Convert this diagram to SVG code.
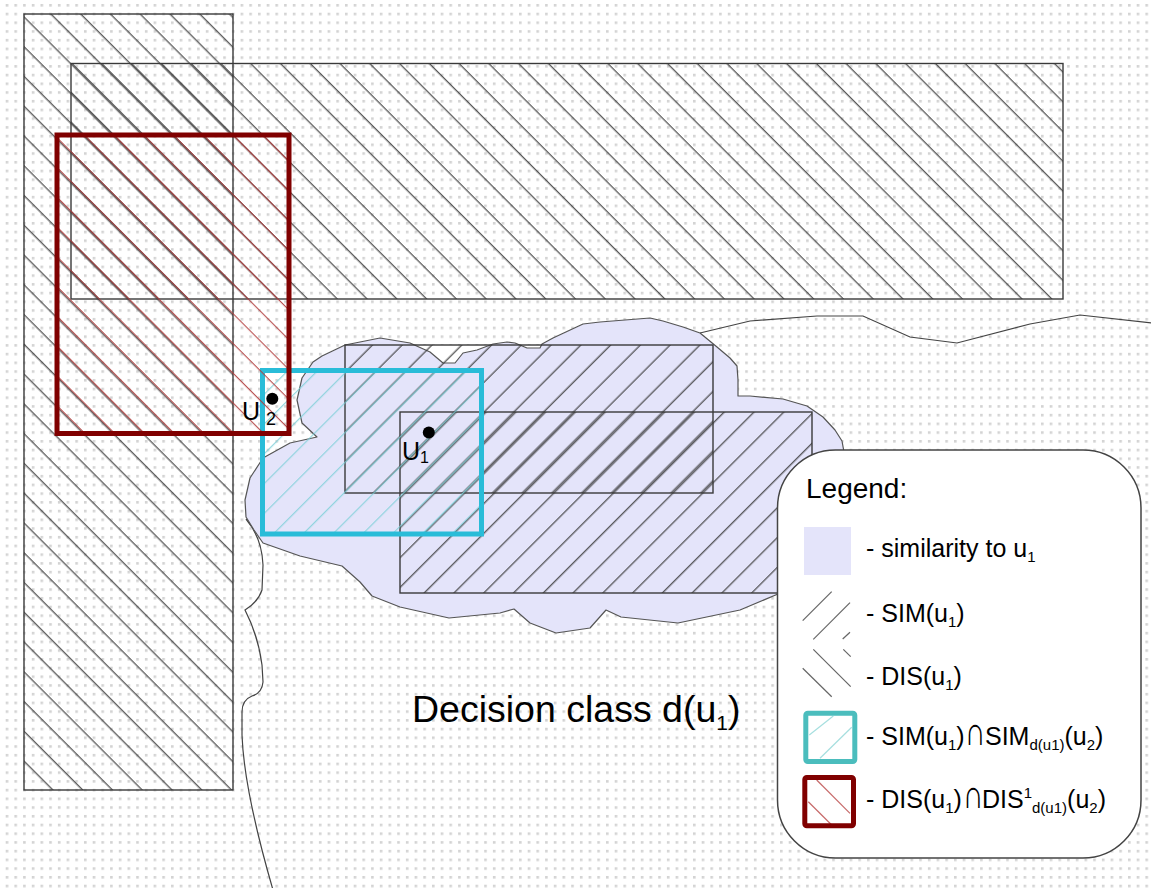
<svg xmlns="http://www.w3.org/2000/svg" width="1151" height="888" viewBox="0 0 1151 888">
  <style>
    text { font-family: "Liberation Sans", Arial, sans-serif; fill: #000; }
    .frame { stroke: #3a3a3a; stroke-width: 1.4; }
    .edge { fill: none; stroke: #444; stroke-width: 1.2; }
    .icon-line { stroke: #666; stroke-width: 1.2; }
    .sub { font-size: 15px; }
  </style>
  <defs>
    <!-- dotted paper -->
    <pattern id="dots" patternUnits="userSpaceOnUse" x="5.7" y="4" width="8.7" height="8.72">
      <rect width="2.6" height="2.6" fill="#d3d3d3"/>
    </pattern>
    <!-- "\" hatching (DIS) -->
    <pattern id="disA" patternUnits="userSpaceOnUse" width="21.05" height="20" patternTransform="rotate(-45)">
      <line x1="5" y1="-2" x2="5" y2="22" stroke="#383838" stroke-width="1.1"/>
    </pattern>
    <pattern id="disB" patternUnits="userSpaceOnUse" width="21.05" height="20" patternTransform="rotate(-45)">
      <line x1="6" y1="-2" x2="6" y2="22" stroke="#383838" stroke-width="1.1"/>
    </pattern>
    <pattern id="disRed" patternUnits="userSpaceOnUse" width="21.05" height="20" patternTransform="rotate(-45)">
      <line x1="6.1" y1="-2" x2="6.1" y2="22" stroke="#b03a3a" stroke-width="1"/>
    </pattern>
    <!-- "/" hatching (SIM) -->
    <pattern id="simA" patternUnits="userSpaceOnUse" width="21.05" height="20" patternTransform="rotate(45)">
      <line x1="2.1" y1="-2" x2="2.1" y2="22" stroke="#383838" stroke-width="1.1"/>
    </pattern>
    <pattern id="simB" patternUnits="userSpaceOnUse" width="21.05" height="20" patternTransform="rotate(45)">
      <line x1="3.6" y1="-2" x2="3.6" y2="22" stroke="#383838" stroke-width="1.1"/>
    </pattern>
    <pattern id="simCyan" patternUnits="userSpaceOnUse" width="21.05" height="20" patternTransform="rotate(45)">
      <line x1="2.6" y1="-2" x2="2.6" y2="22" stroke="#7ccfd8" stroke-width="1"/>
    </pattern>
  </defs>

  <!-- paper -->
  <rect width="1151" height="888" fill="#fff"/>
  <rect width="1151" height="888" fill="url(#dots)"/>

  <!-- dissimilarity regions -->
  <g id="dis-tall">
    <rect x="24" y="14" width="209" height="776" fill="url(#disA)" class="frame"/>
  </g>
  <g id="dis-wide">
    <rect x="71" y="63.5" width="992" height="235.5" fill="url(#disB)" class="frame"/>
  </g>

  <!-- boundary of decision class d(u1) -->
  <g id="decision-class-boundary">
    <path class="edge" d="M246,519 Q262,538 263,565 L262,590 Q258,602 245,610 Q258,635 262,665 L263,682 Q262,693 252,696 Q242,700 242,712 L242,735 Q244,790 273,890"/>
    <path class="edge" d="M700,333 L750,321 L817,316 L863,316 L910,337 L957,343 L1030,324 L1080,315 L1152,323"/>
  </g>

  <!-- similarity rectangles, paper masked underneath -->
  <g id="sim-backing">
    <rect x="345" y="345" width="368" height="148" fill="#fff"/>
    <rect x="400" y="412" width="412" height="181" fill="#fff"/>
  </g>

  <!-- similarity to u1 -->
  <g id="similarity-cloud">
    <path fill="#e4e4fa" stroke="#555" stroke-width="1.2" stroke-linejoin="round"
      d="M302,378 L313,362 L322,356 L345,345 L380,338 L410,343 L430,352 L443,363 L455,363 L463,353 L477,350 L493,344 L507,342 L515,343 L527,348 L540,348 L542,344 L553,338 L583,324 L600,322 L650,318 L663,321 L683,327 L700,333 L717,347 L730,358 L737,366 L738,380 L738,396 L750,396 L783,399 L807,406 L823,417 L835,430 L842,441 L844,452 L846,480 L835,550 L800,585 L778,594 L740,610 L678,623 L621,617 L606,610 L590,628 L556,633 L530,623 L514,609 L500,613 L449,618 L400,607 L372,596 L360,582 L342,566 L300,556 L263,543 L254,530 L246,517 L245,500 L250,478 L263,458 L290,443 L317,437 L302,423 L297,400 Z"/>
  </g>

  <g id="sim-upper">
    <rect x="345" y="345" width="368" height="148" fill="url(#simA)" class="frame"/>
  </g>
  <g id="sim-lower">
    <rect x="400" y="412" width="412" height="181" fill="url(#simB)" class="frame"/>
  </g>

  <!-- intersections for u2 -->
  <g id="sim-intersection">
    <rect x="262.5" y="370.5" width="219" height="163.5" fill="url(#simCyan)" stroke="#29bcd8" stroke-width="5"/>
  </g>
  <g id="dis-intersection">
    <rect x="57" y="135" width="232" height="298.5" fill="url(#disRed)" stroke="#800000" stroke-width="5"/>
  </g>

  <!-- objects -->
  <g id="u2">
    <circle cx="272.3" cy="398.8" r="6"/>
    <text x="242" y="420" font-size="25">U</text>
    <text x="266" y="425" font-size="18">2</text>
  </g>
  <g id="u1">
    <circle cx="428.8" cy="432.5" r="6"/>
    <text x="402" y="460" font-size="25">U</text>
    <text x="420" y="463" font-size="16">1</text>
  </g>

  <!-- caption -->
  <g id="decision-class-label">
    <text x="412" y="722" font-size="37.5">Decision class d(u<tspan font-size="21" dy="8">1</tspan><tspan dy="-8">)</tspan></text>
  </g>

  <!-- legend -->
  <g id="legend">
    <rect x="777.5" y="450" width="363.5" height="408" rx="58" ry="58" fill="#fff" stroke="#444" stroke-width="1.5"/>
    <text x="806" y="498" font-size="28">Legend:</text>

    <rect x="804" y="527" width="47" height="48" fill="#e4e4fa"/>
    <text x="866" y="557" font-size="25">- similarity to u<tspan class="sub" dy="5">1</tspan></text>

    <line class="icon-line" x1="802.7" y1="620.7" x2="831.7" y2="591.7"/>
    <line class="icon-line" x1="813.3" y1="639.3" x2="850" y2="602.7"/>
    <line class="icon-line" x1="842.7" y1="639" x2="850" y2="632.3"/>
    <text x="866" y="622" font-size="25">- SIM(u<tspan class="sub" dy="5">1</tspan><tspan dy="-5">)</tspan></text>

    <line class="icon-line" x1="843.3" y1="649.3" x2="850.7" y2="656.7"/>
    <line class="icon-line" x1="813.3" y1="649.3" x2="850.7" y2="686.7"/>
    <line class="icon-line" x1="802.7" y1="668.3" x2="831.7" y2="696.7"/>
    <text x="866" y="685" font-size="25">- DIS(u<tspan class="sub" dy="5">1</tspan><tspan dy="-5">)</tspan></text>

    <line x1="809.3" y1="735" x2="833.3" y2="716" stroke="#a6dfdf" stroke-width="1.2"/>
    <line x1="820" y1="758.3" x2="851.7" y2="727.3" stroke="#a6dfdf" stroke-width="1.2"/>
    <rect x="805.8" y="713.2" width="49" height="48.3" rx="2" fill="none" stroke="#4bbdbd" stroke-width="5"/>
    <text x="866" y="745" font-size="25">- SIM(u<tspan class="sub" dy="5">1</tspan><tspan dy="-5">)</tspan></text>
    <text transform="translate(965,745) scale(1.15,1.6)" font-size="25">∩</text>
    <text x="985" y="745" font-size="25">SIM<tspan class="sub" dy="5">d(u1)</tspan><tspan dy="-5">(u</tspan><tspan class="sub" dy="5">2</tspan><tspan dy="-5">)</tspan></text>

    <line x1="816.7" y1="780" x2="850" y2="813.3" stroke="#c76a6a" stroke-width="1.2"/>
    <line x1="808.3" y1="801.7" x2="831.7" y2="825" stroke="#c76a6a" stroke-width="1.2"/>
    <rect x="804.8" y="777.5" width="48.7" height="48.3" rx="2" fill="none" stroke="#800000" stroke-width="5"/>
    <text x="866" y="808" font-size="25">- DIS(u<tspan class="sub" dy="5">1</tspan><tspan dy="-5">)</tspan></text>
    <text transform="translate(963,808) scale(1.15,1.6)" font-size="25">∩</text>
    <text x="982" y="808" font-size="25">DIS<tspan class="sub" dy="-10">1</tspan><tspan class="sub" dy="15">d(u1)</tspan><tspan dy="-5">(u</tspan><tspan class="sub" dy="5">2</tspan><tspan dy="-5">)</tspan></text>
  </g>
</svg>
